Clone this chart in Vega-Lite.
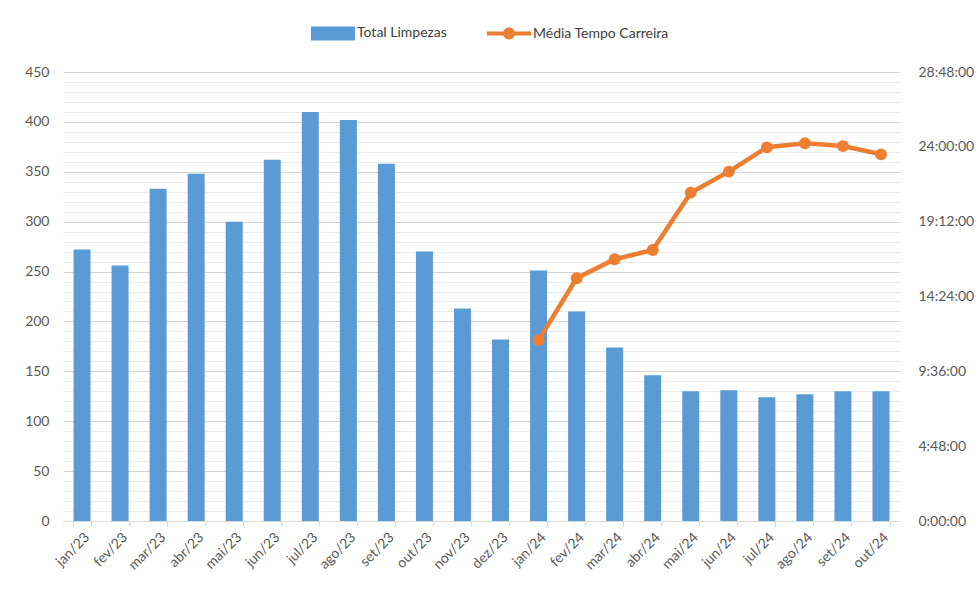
{
  "$schema": "https://vega.github.io/schema/vega-lite/v6.json",
  "autosize": "none",
  "width": 837,
  "height": 449,
  "padding": {"left": 63, "top": 72, "right": 80, "bottom": 72},
  "background": "white",
  "config": {
    "view": {"stroke": null},
    "font": "Lato",
    "axis": {"labelFont": "Lato", "labelColor": "#595959", "labelFontSize": 14},
    "legend": {"labelFont": "Lato", "labelFontSize": 14, "labelColor": "#404040"}
  },
  "data": {
    "values": [
      {"mes": "jan/23", "total": 272, "tempo": null},
      {"mes": "fev/23", "total": 256, "tempo": null},
      {"mes": "mar/23", "total": 333, "tempo": null},
      {"mes": "abr/23", "total": 348, "tempo": null},
      {"mes": "mai/23", "total": 300, "tempo": null},
      {"mes": "jun/23", "total": 362, "tempo": null},
      {"mes": "jul/23", "total": 410, "tempo": null},
      {"mes": "ago/23", "total": 402, "tempo": null},
      {"mes": "set/23", "total": 358, "tempo": null},
      {"mes": "out/23", "total": 270, "tempo": null},
      {"mes": "nov/23", "total": 213, "tempo": null},
      {"mes": "dez/23", "total": 182, "tempo": null},
      {"mes": "jan/24", "total": 251, "tempo": 11.6},
      {"mes": "fev/24", "total": 210, "tempo": 15.57},
      {"mes": "mar/24", "total": 174, "tempo": 16.79},
      {"mes": "abr/24", "total": 146, "tempo": 17.38},
      {"mes": "mai/24", "total": 130, "tempo": 21.06},
      {"mes": "jun/24", "total": 131, "tempo": 22.41},
      {"mes": "jul/24", "total": 124, "tempo": 23.97},
      {"mes": "ago/24", "total": 127, "tempo": 24.23},
      {"mes": "set/24", "total": 130, "tempo": 24.05},
      {"mes": "out/24", "total": 130, "tempo": 23.52}
    ]
  },
  "encoding": {
    "x": {
      "field": "mes",
      "type": "ordinal",
      "sort": null,
      "title": null,
      "scale": {"paddingInner": 0.55, "paddingOuter": 0.275},
      "axis": {
        "labelAngle": -45,
        "labelPadding": 4,
        "domainColor": "#d9d9d9",
        "tickColor": "#d9d9d9",
        "tickBand": "extent",
        "tickSize": 5,
        "grid": false
      }
    }
  },
  "layer": [
    {
      "mark": {"type": "bar", "width": 17},
      "encoding": {
        "y": {
          "field": "total",
          "type": "quantitative",
          "title": null,
          "scale": {"domain": [0, 450], "nice": false},
          "axis": {
            "values": [0,10,20,30,40,50,60,70,80,90,100,110,120,130,140,150,160,170,180,190,200,210,220,230,240,250,260,270,280,290,300,310,320,330,340,350,360,370,380,390,400,410,420,430,440,450],
            "labelExpr": "datum.value % 50 == 0 ? datum.label : ''",
            "domain": false,
            "ticks": false,
            "labelPadding": 14,
            "gridColor": {"condition": {"test": "datum.value % 50 == 0", "value": "#d4d4d4"}, "value": "#ebebeb"},
            "gridWidth": 1
          }
        },
        "color": {
          "datum": "Total Limpezas",
          "scale": {"domain": ["Total Limpezas", "Média Tempo Carreira"], "range": ["#5B9BD5", "#ED7D31"]},
          "legend": {
            "title": null,
            "orient": "none",
            "direction": "horizontal",
            "legendX": 248,
            "legendY": -61,
            "columnPadding": 40,
            "labelOffset": 2,
            "symbolSize": 1936,
            "symbolStrokeWidth": 0,
            "encode": {
              "symbols": {
                "update": {
                  "shape": {"signal": "datum.value == 'Total Limpezas' ? 'M-1,-0.32H1V0.32H-1Z' : 'M-1,-0.09H1V0.09H-1Z M0.27,0 A0.27,0.27 0 1,1 -0.27,0 A0.27,0.27 0 1,1 0.27,0Z'"},
                  "fill": {"signal": "datum.value == 'Total Limpezas' ? '#5B9BD5' : '#ED7D31'"},
                  "size": {"value": 1936},
                  "strokeWidth": {"value": 0}
                }
              }
            }
          }
        }
      }
    },
    {
      "transform": [{"filter": "datum.tempo != null"}],
      "mark": {"type": "line", "strokeWidth": 4.5, "point": {"filled": true, "size": 140}},
      "encoding": {
        "y": {
          "field": "tempo",
          "type": "quantitative",
          "title": null,
          "scale": {"domain": [0, 28.8], "nice": false, "zero": true},
          "axis": {
            "orient": "right",
            "values": [0, 4.8, 9.6, 14.4, 19.2, 24, 28.8],
            "labelExpr": "floor(datum.value + 0.0001) + ':' + format(round((datum.value - floor(datum.value + 0.0001)) * 60), '02d') + ':00'",
            "domain": false,
            "ticks": false,
            "grid": false,
            "labelPadding": 18
          }
        },
        "color": {"datum": "Média Tempo Carreira"}
      }
    }
  ],
  "resolve": {"scale": {"y": "independent"}}
}
